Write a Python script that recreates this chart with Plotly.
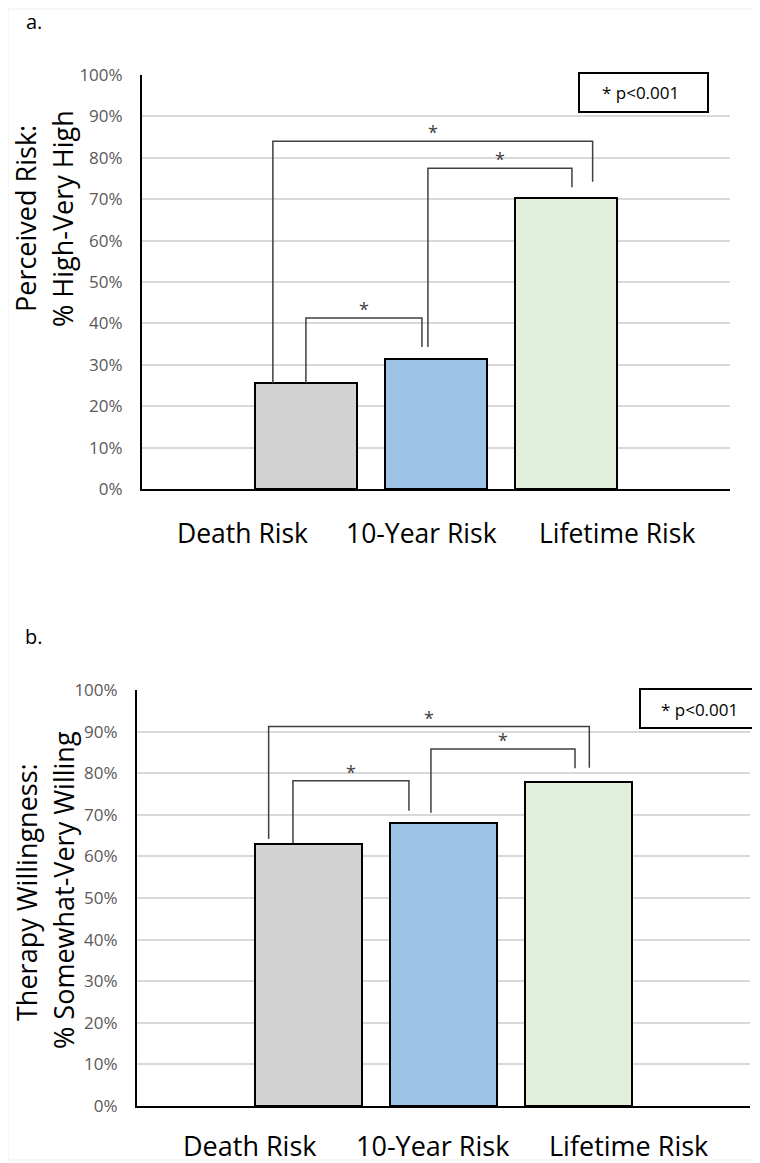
import plotly.graph_objects as go

# ---------------- data ----------------
categories = ["Death Risk", "10-Year Risk", "Lifetime Risk"]
perceived_risk = [25.6, 31.5, 70.3]          # panel a, % High-Very High
therapy_willingness = [63.1, 68.0, 77.8]     # panel b, % Somewhat-Very Willing
y_ticks = [0, 10, 20, 30, 40, 50, 60, 70, 80, 90, 100]
y_tick_labels = [f"{v}%" for v in y_ticks]
bar_colors = ["#d3d3d3", "#9dc3e6", "#e2efda"]
sig_label = "* p<0.001"

# significance brackets: (x_left, x_right, y_top, y_left_end, y_right_end)
brackets_a = [
    (-0.254, 2.204, 84.0, 25.6, 74.2),
    (0.938, 2.045, 77.5, 34.3, 72.9),
    (0.0, 0.892, 41.3, 25.6, 34.3),
]
brackets_b = [
    (-0.295, 2.080, 91.2, 64.2, 81.3),
    (0.907, 1.974, 85.8, 70.5, 81.2),
    (-0.115, 0.744, 78.2, 63.2, 71.0),
]

# category label centres (pixels) as placed in the source figure
cat_label_x_a = [242, 422, 617]
cat_label_x_b = [250, 432, 628]

# page body has an 8px margin: the figure is drawn inside it
OFF = 8
W, H = 760 - OFF, 1163 - OFF


def px(x):
    return (x - OFF) / W


def py(y):
    return 1 - (y - OFF) / H


x_idx = list(range(len(categories)))

fig = go.Figure()
fig.add_trace(go.Bar(
    x=x_idx, y=perceived_risk, width=0.785,
    marker=dict(color=bar_colors, line=dict(color="black", width=2)),
    xaxis="x", yaxis="y", showlegend=False, hoverinfo="skip"))
fig.add_trace(go.Bar(
    x=x_idx, y=therapy_willingness, width=0.79,
    marker=dict(color=bar_colors, line=dict(color="black", width=2)),
    xaxis="x2", yaxis="y2", showlegend=False, hoverinfo="skip"))

tick_font = dict(family="Open Sans", size=17, color="#595959")

common_y = dict(
    range=[0, 100], tickvals=y_ticks, ticktext=y_tick_labels,
    showgrid=True, gridcolor="#d9d9d9", gridwidth=1.5,
    showline=True, linecolor="black", linewidth=2,
    zeroline=False, ticks="", tickfont=tick_font, ticklabelstandoff=14,
    automargin=False, fixedrange=True)
common_x = dict(
    showticklabels=False, showgrid=False, zeroline=False,
    showline=True, linecolor="black", linewidth=2, ticks="",
    automargin=False, fixedrange=True)

fig.update_layout(
    width=W, height=H, margin=dict(l=0, r=0, t=0, b=0),
    paper_bgcolor="white", plot_bgcolor="white",
    xaxis=dict(common_x, domain=[px(142), px(730)], range=[-1.26, 3.26], anchor="y"),
    yaxis=dict(common_y, domain=[py(489), py(75)], anchor="x"),
    xaxis2=dict(common_x, domain=[px(137), px(750)], range=[-1.27, 3.27], anchor="y2"),
    yaxis2=dict(common_y, domain=[py(1106), py(690)], anchor="x2"),
    bargap=0,
)

shapes = []
annotations = []


def note(text, x, y, font, **kw):
    d = dict(x=px(x), y=py(y), xref="paper", yref="paper", text=text,
             showarrow=False, xanchor="center", yanchor="middle", font=font)
    d.update(kw)
    annotations.append(d)


star_font = dict(family="Open Sans", size=18, color="#404040")
for brs, xr, yr in ((brackets_a, "x", "y"), (brackets_b, "x2", "y2")):
    for (xl, xrr, yt, yl, yrr) in brs:
        shapes.append(dict(
            type="path", xref=xr, yref=yr,
            path=f"M {xl},{yl} L {xl},{yt} L {xrr},{yt} L {xrr},{yrr}",
            line=dict(color="#404040", width=1.5)))
        annotations.append(dict(
            x=(xl + xrr) / 2, y=yt, xref=xr, yref=yr, text="*",
            showarrow=False, yanchor="bottom", xanchor="center",
            yshift=-5, font=star_font))

# category labels
for labels_x, size, yc in ((cat_label_x_a, 26.5, 533), (cat_label_x_b, 27, 1145)):
    for name, xc in zip(categories, labels_x):
        note(name, xc, yc, dict(family="Open Sans", size=size, color="black"))

# significance key boxes
shapes.append(dict(type="rect", xref="paper", yref="paper",
                   x0=px(579), x1=px(708), y0=py(112), y1=py(73),
                   line=dict(color="black", width=2), fillcolor="white"))
shapes.append(dict(type="rect", xref="paper", yref="paper",
                   x0=px(640), x1=px(763), y0=py(728), y1=py(689),
                   line=dict(color="black", width=2), fillcolor="white"))
key_font = dict(family="Open Sans", size=17, color="black")
note(sig_label, 640, 92.5, key_font)
note(sig_label, 699, 709, key_font)

# panel letters
letter_font = dict(family="Open Sans", size=20, color="black")
note("a.", 34, 21, letter_font)
note("b.", 34, 636, letter_font)

# y-axis titles (two rotated lines each)
title_font = dict(family="Open Sans", size=27, color="black")
for txt, x, y in (("Perceived Risk:", 26, 219), ("% High-Very High", 63, 219),
                  ("Therapy Willingness:", 26, 892), ("% Somewhat-Very Willing", 63, 890)):
    note(txt, x, y, title_font, textangle=-90)

# faint chart-area border
shapes.append(dict(type="rect", xref="paper", yref="paper",
                   x0=px(8), x1=px(762), y0=py(1160), y1=py(9),
                   line=dict(color="#eeeeee", width=1), layer="below"))

fig.update_layout(shapes=shapes, annotations=annotations)
fig.write_html("out.html")
